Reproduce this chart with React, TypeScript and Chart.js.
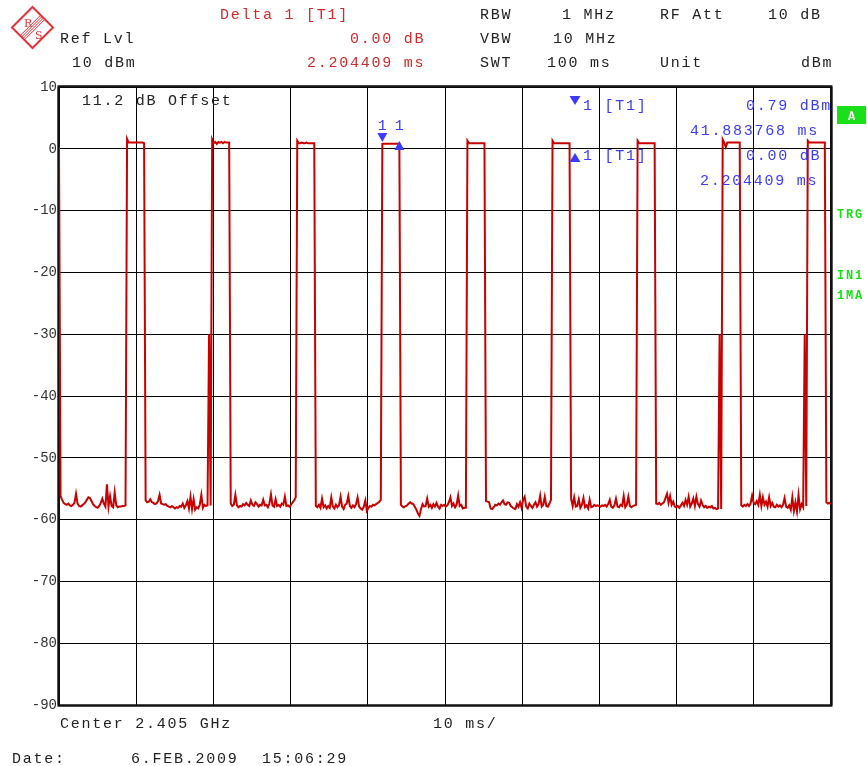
import React, { useEffect, useRef } from "react";
import { Chart, registerables } from "chart.js";

Chart.register(...registerables);

// ---- sweep / axis settings ----
const SWEEP_MS = 100;
const X_MIN = 0;
const X_MAX = 100;
const X_STEP = 10;
const Y_MIN = -90;
const Y_MAX = 10;
const Y_STEP = 10;

// ---- trace values (dBm), segment by segment ----
const pulse1Tail = [0.3];
const floorGap1 = [
  -56.2, -56.8, -57.3, -57.5, -57.6, -57.4, -57.7, -57.8, -57.6, -57.3,
  -55.8, -57.4, -57.8, -57.9, -57.7, -57.5, -57.2, -56.8, -56.4, -56.5,
  -57.0, -57.5, -57.8, -58.0, -58.1, -57.8, -57.3, -56.6, -57.4, -57.9,
  -54.3, -57.9, -56.2, -57.8, -58.0, -55.6, -57.7, -58.0, -57.9, -57.9,
  -57.8, -57.8, -57.7,
];
const pulse2 = [1.6, 1.0, 1.0, 1.0, 1.0, 1.0, 1.0, 1.0, 1.0, 1.0, 1.0, 0.9];
const floorGap2 = [
  -56.9, -57.2, -57.1, -56.7, -57.2, -57.3, -57.5, -57.4, -57.0, -56.0,
  -57.4, -57.5, -57.6, -57.5, -57.8, -57.9, -58.0, -57.8, -58.0, -58.2,
  -58.0, -58.1, -57.8, -57.9, -57.4, -58.1, -57.7, -57.0, -58.2, -56.3,
  -58.3, -56.7, -58.4, -58.0, -58.2, -57.6, -56.0, -58.1, -57.6, -57.8,
  -57.7, -30.0, -57.7,
];
const pulse3 = [1.5, 0.9, 1.1, 0.8, 1.1, 1.0, 1.1, 0.9, 1.1, 1.0, 1.0, 1.0];
const floorGap3 = [
  -57.4, -57.8, -57.6, -56.0, -57.7, -58.0, -57.8, -57.9, -57.5, -57.7,
  -57.3, -57.6, -57.8, -56.9, -57.6, -57.8, -57.2, -57.5, -57.9, -57.6,
  -57.7, -56.8, -57.7, -57.6, -58.0, -57.4, -55.9, -57.7, -57.9, -56.7,
  -57.8, -57.6, -57.9, -57.4, -57.6, -56.3, -57.8, -57.7, -57.9, -57.6,
  -57.2, -56.9, -56.4,
];
const pulse4 = [1.3, 0.9, 0.9, 1.0, 0.9, 0.9, 1.0, 0.9, 0.9, 0.9, 0.9, 0.9];
const floorGap4 = [
  -57.8, -58.0, -57.6, -58.1, -56.6, -58.0, -57.7, -58.2, -57.8, -58.1,
  -56.4, -57.9, -58.2, -57.6, -58.0, -57.7, -56.3, -57.9, -58.3, -57.6,
  -57.4, -56.2, -57.8, -58.1, -57.7, -58.0, -57.5, -56.4, -57.9, -58.2,
  -58.4, -57.9, -56.9, -58.6, -58.1, -57.8, -57.9, -57.6, -57.7, -57.5,
  -57.3, -57.1, -56.8,
];
const pulse5 = [0.79, 0.8, 0.8, 0.8, 0.8, 0.8, 0.8, 0.8, 0.8, 0.8, 0.8, 0.79];
const floorGap5 = [
  -57.6, -57.9, -58.0, -57.8, -57.7, -57.4, -57.2, -57.4, -57.5, -57.9,
  -58.4, -59.0, -59.4, -58.3, -57.5, -57.9, -57.8, -56.6, -57.9, -57.6,
  -58.1, -57.5, -57.9, -57.3, -57.9, -58.2, -57.6, -57.8, -57.6, -57.9,
  -57.7, -57.2, -56.4, -57.8, -57.4, -58.0, -57.6, -56.1, -57.8, -57.6,
  -58.2, -58.1, -58.1,
];
const pulse6 = [1.3, 0.9, 0.9, 0.9, 0.9, 0.9, 0.9, 0.9, 0.9, 0.9, 0.9, 0.9];
const floorGap6 = [
  -57.0, -57.1, -57.2, -58.2, -58.3, -58.0, -57.6, -57.7, -57.4, -57.6,
  -57.2, -56.9, -57.5, -57.6, -57.2, -57.3, -57.8, -58.0, -58.2, -58.3,
  -57.5, -57.9, -57.2, -58.1, -56.8, -56.3, -57.9, -58.2, -57.4, -57.8,
  -58.1, -57.6, -57.2, -57.9, -57.5, -56.1, -57.9, -57.6, -56.3, -57.8,
  -57.9, -57.4, -56.8,
];
const pulse7 = [1.3, 0.9, 0.9, 0.9, 0.9, 0.9, 0.9, 0.9, 0.9, 0.9, 0.9, 0.9];
const floorGap7 = [
  -56.6, -57.8, -56.4, -57.9, -57.8, -56.7, -58.1, -57.6, -56.5, -58.0,
  -57.7, -58.2, -56.8, -58.0, -57.9, -57.6, -57.8, -57.7, -57.8, -57.9,
  -57.7, -57.8, -57.6, -57.9, -57.5, -56.8, -57.9, -58.1, -57.7, -56.6,
  -57.9, -58.0, -57.6, -57.8, -56.2, -58.0, -57.6, -56.3, -57.8, -58.0,
  -57.8, -57.7, -57.6,
];
const pulse8 = [1.3, 0.9, 0.9, 0.9, 0.9, 0.9, 0.9, 0.9, 0.9, 0.9, 0.9, 0.9];
const floorGap8 = [
  -57.4, -57.5, -57.3, -57.6, -57.4, -57.2, -56.5, -55.8, -57.3, -56.2,
  -57.6, -57.1, -57.9, -58.0, -57.8, -58.1, -57.7, -57.3, -57.8, -56.8,
  -57.6, -56.3, -57.9, -57.4, -56.6, -57.8, -56.3, -57.5, -57.9, -56.9,
  -57.6, -58.0, -57.8, -58.1, -57.9, -58.0, -57.8, -58.2, -58.1, -58.3,
  -58.2, -30.0, -58.3,
];
const pulse9 = [1.5, 1.0, 0.3, 1.0, 1.0, 1.0, 1.0, 1.0, 1.0, 1.0, 1.0, 1.0];
const floorGap9 = [
  -57.7, -57.9, -57.6, -57.8, -57.5, -57.8, -57.4, -56.1, -57.3, -57.5,
  -57.0, -57.6, -56.0, -57.8, -56.4, -57.6, -57.1, -57.9, -56.4, -57.8,
  -57.3, -57.9, -58.0, -57.6, -57.9, -57.7, -58.0, -57.6, -56.5, -57.9,
  -58.1, -57.7, -58.4, -56.4, -58.6, -57.2, -58.7, -56.0, -58.3, -57.5,
  -58.0, -30.0, -57.8,
];
const pulse10 = [1.3, 1.0, 1.0, 1.0, 1.0, 1.0, 1.0, 1.0, 1.0, 1.0, 1.0, 1.0];
const floorGap10 = [-57.2, -57.4, -57.3, -57.5];

const traceDbm = [
  ...pulse1Tail, ...floorGap1, ...pulse2, ...floorGap2, ...pulse3, ...floorGap3,
  ...pulse4, ...floorGap4, ...pulse5, ...floorGap5, ...pulse6, ...floorGap6,
  ...pulse7, ...floorGap7, ...pulse8, ...floorGap8, ...pulse9, ...floorGap9,
  ...pulse10, ...floorGap10,
];

// marker 1 (reference) and delta marker 1, as trace sample indices
const markerIndices = [209, 220];

// ---- drawing helpers ----
const MONO = "'Liberation Mono', 'DejaVu Sans Mono', monospace";
const TXT = `15px ${MONO}`;
const RED = "#d22a2a";
const BLACK = "#222222";
const BLUE = "#3b3bff";
const GREEN = "#19e019";

function put(ctx: CanvasRenderingContext2D, s: string, x: number, y: number, color: string, font = TXT, spacing = 1.75) {
  ctx.save();
  ctx.font = font;
  ctx.fillStyle = color;
  ctx.textAlign = "left";
  ctx.textBaseline = "alphabetic";
  (ctx as any).letterSpacing = `${spacing}px`;
  ctx.fillText(s, x, y);
  ctx.restore();
}

function tri(ctx: CanvasRenderingContext2D, cx: number, tipY: number, baseY: number, half: number, color: string) {
  ctx.save();
  ctx.fillStyle = color;
  ctx.beginPath();
  ctx.moveTo(cx, tipY);
  ctx.lineTo(cx - half, baseY);
  ctx.lineTo(cx + half, baseY);
  ctx.closePath();
  ctx.fill();
  ctx.restore();
}

function logo(ctx: CanvasRenderingContext2D) {
  const cx = 32.5, cy = 27.5, r = 20.5;
  ctx.save();
  ctx.strokeStyle = "#e8303a";
  ctx.lineWidth = 2;
  ctx.beginPath();
  ctx.moveTo(cx - r, cy);
  ctx.lineTo(cx, cy - r);
  ctx.lineTo(cx + r, cy);
  ctx.lineTo(cx, cy + r);
  ctx.closePath();
  ctx.stroke();
  ctx.lineWidth = 1;
  for (const o of [-3, -1, 1, 3]) {
    const d = o * 0.7071;
    ctx.beginPath();
    ctx.moveTo(cx - r / 2 + d, cy + r / 2 + d);
    ctx.lineTo(cx + r / 2 + d, cy - r / 2 + d);
    ctx.stroke();
  }
  ctx.fillStyle = "#e8303a";
  ctx.font = "11px 'DejaVu Serif', serif";
  ctx.fillText("R", 24, 27);
  ctx.fillText("S", 35, 39);
  ctx.restore();
}

const overlay = {
  id: "overlay",
  beforeDraw(chart: any) {
    const ctx = chart.ctx as CanvasRenderingContext2D;
    ctx.save();
    ctx.fillStyle = "#ffffff";
    ctx.fillRect(0, 0, chart.width, chart.height);
    ctx.restore();
  },
  beforeDatasetsDraw(chart: any) {
    const ctx = chart.ctx as CanvasRenderingContext2D;
    const a = chart.chartArea;
    ctx.save();
    ctx.strokeStyle = "#9a9a9a";
    ctx.lineWidth = 1;
    ctx.beginPath();
    ctx.moveTo(a.left - 1.5, a.top);
    ctx.lineTo(a.left - 1.5, a.bottom);
    ctx.moveTo(a.right + 1.5, a.top);
    ctx.lineTo(a.right + 1.5, a.bottom);
    ctx.stroke();
    ctx.strokeStyle = "#111111";
    ctx.lineWidth = 2.5;
    ctx.strokeRect(a.left - 0.25, a.top - 0.5, a.right - a.left + 0.5, a.bottom - a.top + 1);
    ctx.restore();
  },
  afterDatasetsDraw(chart: any) {
    const ctx = chart.ctx as CanvasRenderingContext2D;
    const xs = chart.scales.x;
    const ys = chart.scales.y;
    const data = chart.data.datasets[0].data as { x: number; y: number }[];

    // markers on the trace
    const [m1, m2] = markerIndices.map((i) => data[i]);
    const p1x = xs.getPixelForValue(m1.x), p1y = ys.getPixelForValue(m1.y);
    const p2x = xs.getPixelForValue(m2.x), p2y = ys.getPixelForValue(m2.y);
    tri(ctx, p1x, p1y - 2, p1y - 11, 5, BLUE);
    tri(ctx, p2x, p2y - 3, p2y + 6, 5, BLUE);
    ctx.save();
    ctx.font = TXT;
    ctx.fillStyle = BLUE;
    ctx.textAlign = "center";
    ctx.fillText("1", p1x, p1y - 14);
    ctx.fillText("1", p2x, p1y - 14);
    ctx.restore();

    // marker readout in the diagram
    tri(ctx, 575, 105, 96, 5.5, BLUE);
    put(ctx, "1 [T1]", 583, 110, BLUE);
    put(ctx, "0.79 dBm", 746, 110, BLUE);
    put(ctx, "41.883768 ms", 690, 135, BLUE);
    tri(ctx, 575, 153, 162, 5.5, BLUE);
    put(ctx, "1 [T1]", 583, 160, BLUE);
    put(ctx, "0.00 dB", 746, 160, BLUE);
    put(ctx, "2.204409 ms", 700, 185, BLUE);

    put(ctx, "11.2 dB Offset", 82, 105, BLACK);

    // header
    logo(ctx);
    put(ctx, "Delta 1 [T1]", 220, 19, RED);
    put(ctx, "RBW", 480, 19, BLACK);
    put(ctx, "1 MHz", 562, 19, BLACK);
    put(ctx, "RF Att", 660, 19, BLACK);
    put(ctx, "10 dB", 768, 19, BLACK);
    put(ctx, "Ref Lvl", 60, 43, BLACK);
    put(ctx, "0.00 dB", 350, 43, RED);
    put(ctx, "VBW", 480, 43, BLACK);
    put(ctx, "10 MHz", 553, 43, BLACK);
    put(ctx, "10 dBm", 72, 67, BLACK);
    put(ctx, "2.204409 ms", 307, 67, RED);
    put(ctx, "SWT", 480, 67, BLACK);
    put(ctx, "100 ms", 547, 67, BLACK);
    put(ctx, "Unit", 660, 67, BLACK);
    put(ctx, "dBm", 801, 67, BLACK);

    // footer
    put(ctx, "Center 2.405 GHz", 60, 728, BLACK);
    put(ctx, "10 ms/", 433, 728, BLACK);
    put(ctx, "Date:", 12, 763, BLACK);
    put(ctx, "6.FEB.2009", 131, 763, BLACK);
    put(ctx, "15:06:29", 262, 763, BLACK);

    // right-side status
    ctx.save();
    ctx.fillStyle = GREEN;
    ctx.fillRect(837, 106, 29, 18);
    ctx.fillStyle = "#ffffff";
    ctx.font = `bold 12px ${MONO}`;
    ctx.textAlign = "center";
    ctx.fillText("A", 851.5, 119.5);
    ctx.restore();
    put(ctx, "TRG", 837, 218, GREEN, `bold 12px ${MONO}`, 1.8);
    put(ctx, "IN1", 837, 279, GREEN, `bold 12px ${MONO}`, 1.8);
    put(ctx, "1MA", 837, 299, GREEN, `bold 12px ${MONO}`, 1.8);
  },
};

export default function App() {
  const ref = useRef<HTMLCanvasElement>(null);

  useEffect(() => {
    document.body.style.margin = "0";
    const canvas = ref.current;
    if (!canvas) return;
    const n = traceDbm.length;
    const points = traceDbm.map((v, i) => ({ x: (i * SWEEP_MS) / (n - 1), y: v }));

    const chart = new Chart(canvas, {
      type: "line",
      data: {
        datasets: [
          {
            data: points,
            borderColor: "#c80000",
            borderWidth: 2,
            pointRadius: 0,
            tension: 0,
            fill: false,
          },
        ],
      },
      options: {
        responsive: false,
        animation: false,
        events: [],
        layout: { padding: { left: 0, top: 87, right: 36, bottom: 61 } },
        plugins: { legend: { display: false }, tooltip: { enabled: false } },
        scales: {
          x: {
            type: "linear",
            min: X_MIN,
            max: X_MAX,
            ticks: { stepSize: X_STEP, display: false },
            grid: { color: "#000000", lineWidth: 1, drawTicks: false },
            border: { display: false },
            afterFit: (s: any) => {
              s.height = 0;
            },
          },
          y: {
            min: Y_MIN,
            max: Y_MAX,
            ticks: {
              stepSize: Y_STEP,
              color: "#333333",
              font: { family: "'Liberation Mono', monospace", size: 14 },
              padding: 2,
            },
            grid: { color: "#000000", lineWidth: 1, drawTicks: false },
            border: { display: false },
            afterFit: (s: any) => {
              s.width = 59;
            },
          },
        },
      },
      plugins: [overlay],
    });
    return () => chart.destroy();
  }, []);

  return (
    <div style={{ width: 867, height: 766, background: "#ffffff" }}>
      <canvas ref={ref} width={867} height={766} style={{ display: "block" }} />
    </div>
  );
}
